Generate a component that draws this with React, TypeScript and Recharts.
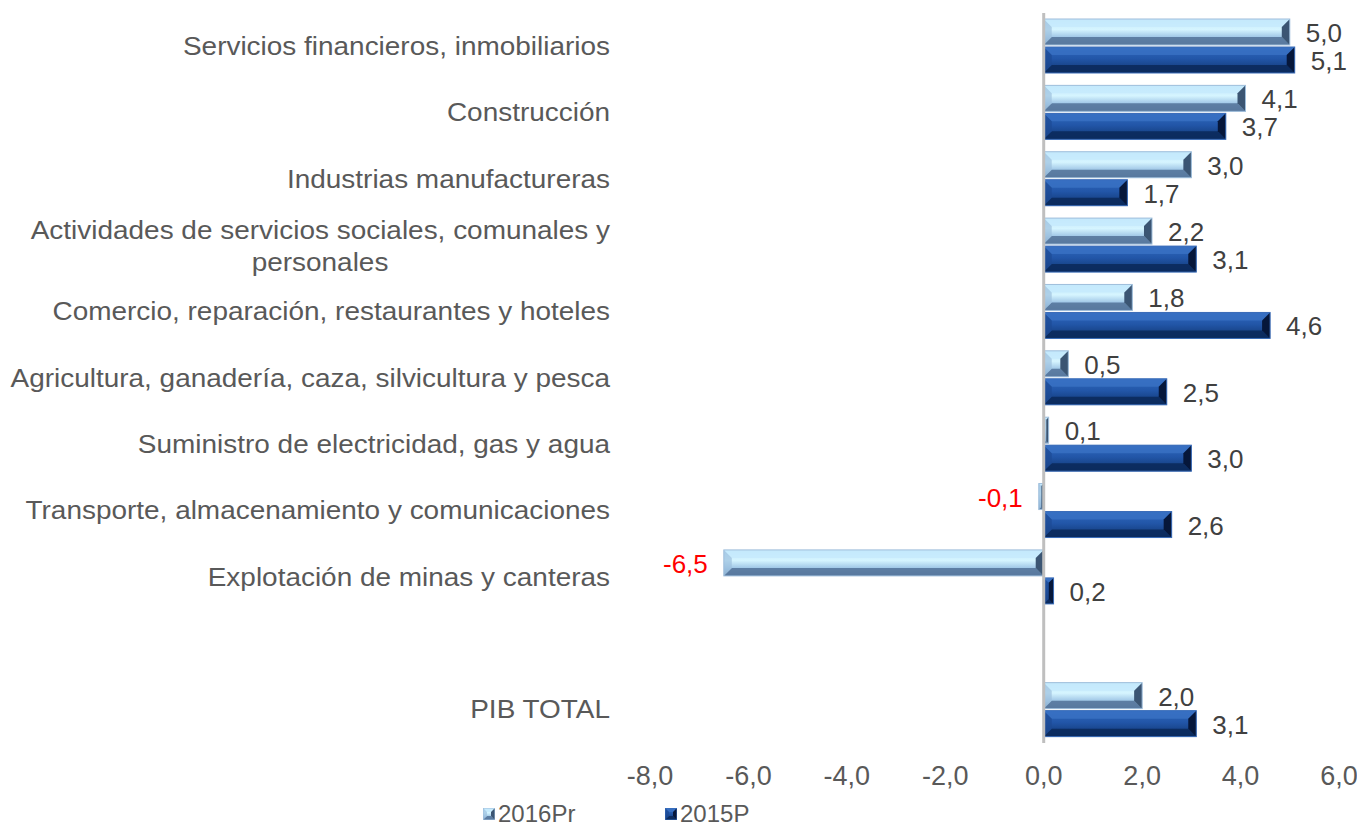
import React from 'react';
import { BarChart, Bar, XAxis, YAxis, LabelList, ReferenceLine, Legend } from 'recharts';

// sectors, top to bottom (empty slot before the total)
const categories = [
    'Servicios financieros, inmobiliarios',
    'Construcción',
    'Industrias manufactureras',
    'Actividades de servicios sociales, comunales y\npersonales',
    'Comercio, reparación, restaurantes y hoteles',
    'Agricultura, ganadería, caza, silvicultura y pesca',
    'Suministro de electricidad, gas y agua',
    'Transporte, almacenamiento y comunicaciones',
    'Explotación de minas y canteras',
    '',
    'PIB TOTAL',
];

const values2016Pr = [5.0, 4.1, 3.0, 2.2, 1.8, 0.5, 0.1, -0.1, -6.5, null, 2.0];
const values2015P = [5.1, 3.7, 1.7, 3.1, 4.6, 2.5, 3.0, 2.6, 0.2, null, 3.1];

const xTicks = [-8, -6, -4, -2, 0, 2, 4, 6];

const data = categories.map((name, i) => ({
    name,
    y2016: values2016Pr[i],
    y2015: values2015P[i],
}));

const FONT = '"Liberation Sans", Arial, sans-serif';
const fmt = (v: number) => v.toFixed(1).replace('.', ',');

const palettes: any = {
    light: {
        face: 'url(#faceLight)',
        top: '#c6eafd',
        bottom: '#56779c',
        right: '#3b5573',
        left: '#9dc1de',
        stroke: '#9fbedb',
    },
    dark: {
        face: 'url(#faceDark)',
        top: '#3a72c4',
        bottom: '#0b2a5c',
        right: '#06173a',
        left: '#1c4a94',
        stroke: '#3a6cb8',
    },
};

function BevelBar(props: any) {
    const { kind } = props;
    let { x, y, width, height } = props;
    if (x == null || width == null || !height) return null;
    if (width < 0) {
        x = x + width;
        width = -width;
    }
    if (width < 0.5) width = 1;
    const p = palettes[kind];
    const b = Math.min(8, height / 3, width / 2);
    const x2 = x + width;
    const y2 = y + height;
    return (
        <g>
            <rect x={x} y={y} width={width} height={height} fill={p.face} />
            <polygon points={`${x},${y} ${x2},${y} ${x2 - b},${y + b} ${x + b},${y + b}`} fill={p.top} opacity={0.8} />
            <polygon points={`${x},${y2} ${x2},${y2} ${x2 - b},${y2 - b} ${x + b},${y2 - b}`} fill={p.bottom} opacity={0.9} />
            <polygon points={`${x2},${y} ${x2},${y2} ${x2 - b},${y2 - b} ${x2 - b},${y + b}`} fill={p.right} />
            <polygon points={`${x},${y} ${x},${y2} ${x + b},${y2 - b} ${x + b},${y + b}`} fill={p.left} opacity={0.7} />
            <rect x={x} y={y} width={width} height={height} fill="none" stroke={p.stroke} strokeWidth={1} />
        </g>
    );
}

function ValueLabel(props: any) {
    const { x, y, width, height, value } = props;
    if (value == null) return null;
    const end = value >= 0 ? Math.max(x, x + width) : Math.min(x, x + width);
    const neg = value < 0;
    return (
        <text
            x={neg ? end - 16 : end + 16}
            y={y + height / 2 + 1}
            textAnchor={neg ? 'end' : 'start'}
            dominantBaseline="central"
            fontSize={26}
            fontFamily={FONT}
            fill={neg ? '#ff0000' : '#404040'}
        >
            {fmt(value)}
        </text>
    );
}

// labels in the original are a little wider than the font, so stretch them
const STRETCH = 1.075;

function CategoryTick(props: any) {
    const { y, payload } = props;
    const lines = String(payload.value).split('\n');
    const textProps = { dominantBaseline: 'central', fontSize: 26, fontFamily: FONT, fill: '#595959' } as any;
    return (
        <g transform={`translate(602,${y}) scale(${STRETCH},1)`}>
            {lines.length === 1 ? (
                <text x={0} y={0} textAnchor="end" {...textProps}>
                    {lines[0]}
                </text>
            ) : (
                <>
                    <text x={0} y={-15} textAnchor="end" {...textProps}>
                        {lines[0]}
                    </text>
                    <text x={-290 / STRETCH} y={17} textAnchor="middle" {...textProps}>
                        {lines[1]}
                    </text>
                </>
            )}
        </g>
    );
}

function LegendIcon({ kind }: { kind: string }) {
    return (
        <svg width={12} height={12} style={{ marginRight: 3 }}>
            <BevelBar kind={kind} x={0} y={0} width={12} height={12} />
        </svg>
    );
}

function CustomLegend() {
    const items = [
        { key: 'light', label: '2016Pr', left: 475 },
        { key: 'dark', label: '2015P', left: 657 },
    ];
    return (
        <div style={{ position: 'relative', height: 46 }}>
            {items.map((it) => (
                <div
                    key={it.key}
                    style={{
                        position: 'absolute',
                        left: it.left,
                        top: 21,
                        height: 25,
                        display: 'flex',
                        alignItems: 'center',
                        fontFamily: FONT,
                        fontSize: 24,
                        lineHeight: '25px',
                        color: '#595959',
                    }}
                >
                    <LegendIcon kind={it.key} />
                    <span>{it.label}</span>
                </div>
            ))}
        </div>
    );
}

export default function App() {
    return (
        <div style={{ width: 1357, height: 818, background: '#fff' }}>
            <BarChart
                width={1357}
                height={818}
                data={data}
                layout="vertical"
                margin={{ top: 5, right: 26, bottom: 0, left: 0 }}
                barSize={26}
                barGap={2}
            >
                <defs>
                    <linearGradient id="faceLight" x1="0" y1="0" x2="0" y2="1">
                        <stop offset="0%" stopColor="#bde4fa" />
                        <stop offset="40%" stopColor="#d6f5ff" />
                        <stop offset="70%" stopColor="#9fc6e6" />
                        <stop offset="100%" stopColor="#6588ae" />
                    </linearGradient>
                    <linearGradient id="faceDark" x1="0" y1="0" x2="0" y2="1">
                        <stop offset="0%" stopColor="#3069bd" />
                        <stop offset="45%" stopColor="#2256a8" />
                        <stop offset="100%" stopColor="#0f3570" />
                    </linearGradient>
                </defs>
                <XAxis
                    type="number"
                    domain={[-8, 6]}
                    ticks={xTicks}
                    tickFormatter={fmt}
                    axisLine={false}
                    tickLine={false}
                    tickMargin={17}
                    height={37}
                    tick={{ fontSize: 27, fontFamily: FONT, fill: '#595959' }}
                />
                <YAxis
                    type="category"
                    dataKey="name"
                    width={642}
                    axisLine={false}
                    tickLine={false}
                    interval={0}
                    tick={<CategoryTick />}
                />
                <Legend verticalAlign="bottom" height={46} content={<CustomLegend />} />
                <Bar dataKey="y2016" name="2016Pr" isAnimationActive={false} shape={(p: any) => <BevelBar {...p} kind="light" />}>
                    <LabelList dataKey="y2016" content={<ValueLabel />} />
                </Bar>
                <Bar dataKey="y2015" name="2015P" isAnimationActive={false} shape={(p: any) => <BevelBar {...p} kind="dark" />}>
                    <LabelList dataKey="y2015" content={<ValueLabel />} />
                </Bar>
                <ReferenceLine x={0} stroke="#bfbfbf" strokeWidth={3} />
            </BarChart>
        </div>
    );
}
